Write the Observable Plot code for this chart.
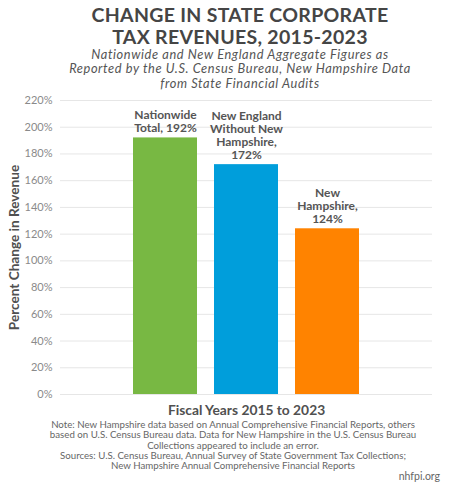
<!DOCTYPE html>
<html>
<head>
<meta charset="utf-8">
<script src="https://cdn.jsdelivr.net/npm/d3@7"></script>
<script src="https://cdn.jsdelivr.net/npm/@observablehq/plot@0.6"></script>
<style>
  body { margin: 0; width: 450px; height: 487px; background: #fff; font-family: Lato, "Open Sans", sans-serif; color: #444; position: relative; overflow: hidden; }
  #title { position: absolute; left: 0; top: 4px; width: 480px; text-align: center; font-weight: 700; font-size: 19.5px; line-height: 21.5px; color: #454545; letter-spacing: 0.3px; }
  #subtitle { position: absolute; left: 0; top: 46.5px; width: 480px; text-align: center; font-style: italic; font-size: 12.8px; line-height: 14.5px; color: #555; letter-spacing: 0.6px; }
  #chart { position: absolute; left: 0; top: 90px; }
  #notes { position: absolute; left: -9px; top: 419px; width: 484px; text-align: center; font-size: 9.7px; line-height: 10.3px; color: #666; }
  #site { position: absolute; right: 10px; top: 470px; font-size: 10.5px; line-height: 13px; color: #666; }
  #chart svg { display: block; }
</style>
</head>
<body>
<div id="title">CHANGE IN STATE CORPORATE<br>TAX REVENUES, 2015-2023</div>
<div id="subtitle">Nationwide and New England Aggregate Figures as<br>Reported by the U.S. Census Bureau, New Hampshire Data<br>from State Financial Audits</div>
<div id="chart"></div>
<div id="notes">Note: New Hampshire data based on Annual Comprehensive Financial Reports, others<br>based on U.S. Census Bureau data. Data for New Hampshire in the U.S. Census Bureau<br>Collections appeared to include an error.<br>Sources: U.S. Census Bureau, Annual Survey of State Government Tax Collections;<br>New Hampshire Annual Comprehensive Financial Reports</div>
<div id="site">nhfpi.org</div>
<script>
const categories = ["Nationwide Total", "New England Without New Hampshire", "New Hampshire"];
const values = [192, 172, 124];
const labels = ["Nationwide\nTotal, 192%", "New England\nWithout New\nHampshire,\n172%", "New\nHampshire,\n124%"];
const colors = ["#78b843", "#009edb", "#ff8300"];
const yTicks = [0, 20, 40, 60, 80, 100, 120, 140, 160, 180, 200, 220];
const xTitle = "Fiscal Years 2015 to 2023";
const yTitle = "Percent Change in Revenue";

const data = categories.map((c, i) => ({category: c, value: values[i], label: labels[i], color: colors[i]}));

const plot = Plot.plot({
  width: 450,
  height: 330,
  marginTop: 10,
  marginBottom: 26,
  marginLeft: 60,
  marginRight: 18,
  style: {fontFamily: "Lato, 'Open Sans', sans-serif", color: "#444"},
  x: {domain: categories, paddingInner: 0.205, paddingOuter: 0.878, axis: null},
  y: {domain: [0, 220], ticks: yTicks, axis: null},
  marks: [
    Plot.gridY(yTicks, {stroke: "#e6e6e6", strokeOpacity: 1, strokeWidth: 1}),
    Plot.text(yTicks, {y: d => d, text: d => d + "%", frameAnchor: "left", textAnchor: "end", dx: -8, fontSize: 11, fill: "#8a8a8a"}),
    Plot.barY(data, {x: "category", y: "value", fill: "color"}),
    Plot.text(data, {x: "category", y: "value", text: "label", lineAnchor: "bottom", dy: -6, fontSize: 12, fontWeight: 700, fill: "#555", lineHeight: 1.08}),
    Plot.text([xTitle], {text: d => d, frameAnchor: "bottom", textAnchor: "middle", lineAnchor: "middle", dy: 16, fontSize: 13.8, fontWeight: 700, fill: "#505050"}),
    Plot.text([yTitle], {text: d => d, frameAnchor: "left", textAnchor: "middle", lineAnchor: "middle", rotate: -90, dx: -46, fontSize: 13.6, fontWeight: 700, fill: "#505050"})
  ]
});
document.getElementById("chart").appendChild(plot);
</script>
</body>
</html>
